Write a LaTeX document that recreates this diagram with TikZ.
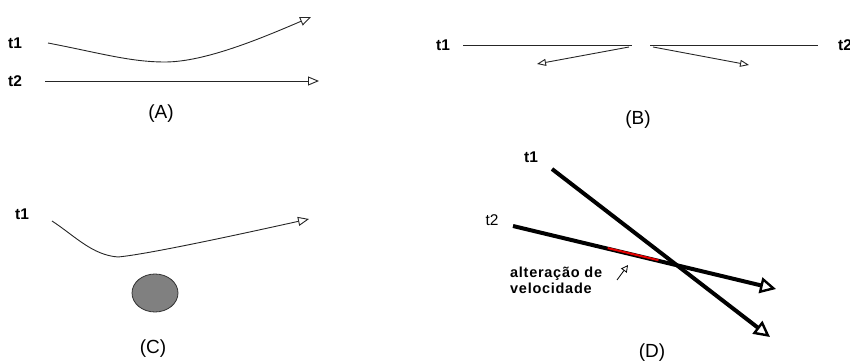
\documentclass[tikz,border=0pt]{standalone}
\usepackage{fontspec}
\setmainfont{Liberation Sans}
\usetikzlibrary{arrows.meta,calc,shapes.geometric}
\begin{document}
\begin{tikzpicture}[x=1pt,y=-1pt,
  thin line/.style={line width=0.9pt, draw=black!85},
  open head/.style={-{Triangle[open,length=11pt,width=9pt,fill=white]}},
  small head/.style={-{Triangle[open,length=9pt,width=7pt,fill=white]}},
  big head/.style={-{Triangle[open,length=16pt,width=16pt,line width=2.4pt,fill=white]}},
  thick line/.style={line width=4pt, draw=black},
  tlabel/.style={font=\bfseries\fontsize{15.5}{17}\selectfont, inner sep=0pt},
  tlabelr/.style={font=\fontsize{15.5}{17}\selectfont, inner sep=0pt},
  caption/.style={font=\fontsize{19}{21}\selectfont, inner sep=0pt}
]
\useasboundingbox (0,0) rectangle (850,363);
\clip (0,0) rectangle (850,363);

% ---------- (A)
\node[tlabel] (At1) at (15,43) {t1};
\node[tlabel] (At2) at (15,81) {t2};
\coordinate (Aa) at (48,43);
\coordinate (Am) at (165,62);
\coordinate (Ae) at (311,17);
\coordinate (Ab) at (45,81);
\coordinate (Af) at (319,81);
\draw[thin line, open head] (Aa) .. controls (100,53) and (130,62) .. (Am)
  .. controls (205,62) and (262,38) .. (Ae);
\draw[thin line, open head] (Ab) -- (Af);
\node[caption] (Acap) at (161,114) {(A)};

% ---------- (B)
\node[tlabel] (Bt1) at (443,45) {t1};
\node[tlabel, anchor=west] (Bt2) at (838,45) {t2};
\coordinate (Bl1) at (463,45);
\coordinate (Bl2) at (632,45);
\coordinate (Br1) at (650,45);
\coordinate (Br2) at (818,45);
\draw[thin line] (Bl1) -- (Bl2);
\draw[thin line] (Br1) -- (Br2);
\coordinate (Ba1) at (629,47);
\coordinate (Ba2) at (537,64);
\coordinate (Bb1) at (653,47);
\coordinate (Bb2) at (749,65);
\draw[thin line, small head] (Ba1) -- (Ba2);
\draw[thin line, small head] (Bb1) -- (Bb2);
\node[caption] (Bcap) at (638,120) {(B)};

% ---------- (C)
\node[tlabel] (Ct1) at (22,214) {t1};
\coordinate (Ca) at (52,221);
\coordinate (Cm) at (118,257);
\coordinate (Ce) at (309,219);
\draw[thin line, open head] (Ca) .. controls (75,236) and (92,255) .. (Cm)
  .. controls (150,254) and (250,232) .. (Ce);
\node[ellipse, draw=black!80, fill=black!50, line width=0.8pt,
  minimum width=46pt, minimum height=38pt, inner sep=0pt] (ball) at (155,293) {};
\node[caption] (Ccap) at (153,349) {(C)};

% ---------- (D)
\node[tlabel] (Dt1) at (531,157) {t1};
\node[tlabelr] (Dt2) at (492,220) {t2};
\coordinate (D1a) at (552,169);
\coordinate (D1b) at (770,337);
\coordinate (D2a) at (513,226);
\coordinate (D2b) at (776,289);
\draw[thick line, big head] (D2a) -- (D2b);
\draw[thick line, big head] (D1a) -- (D1b);
\coordinate (Rs) at ($(D2a)!0.36!(D2b)$);
\coordinate (Re) at ($(D2a)!0.553!(D2b)$);
\draw[red!90!black, line width=2pt] ([yshift=0.6pt]Rs) -- ([yshift=0.6pt]Re);
\node[font=\bfseries\fontsize{14.5}{16}\selectfont\addfontfeatures{LetterSpace=5},
  align=left, anchor=west, inner sep=0pt, text=black] (Dtxt) at (510,280)
  {alteração de\\velocidade};
\coordinate (Sa) at (617,280);
\coordinate (Sb) at (628,265);
\draw[line width=0.8pt, -{Triangle[open,length=7pt,width=7pt]}] (Sa) -- (Sb);
\node[caption] (Dcap) at (652,353) {(D)};
\end{tikzpicture}
\end{document}
